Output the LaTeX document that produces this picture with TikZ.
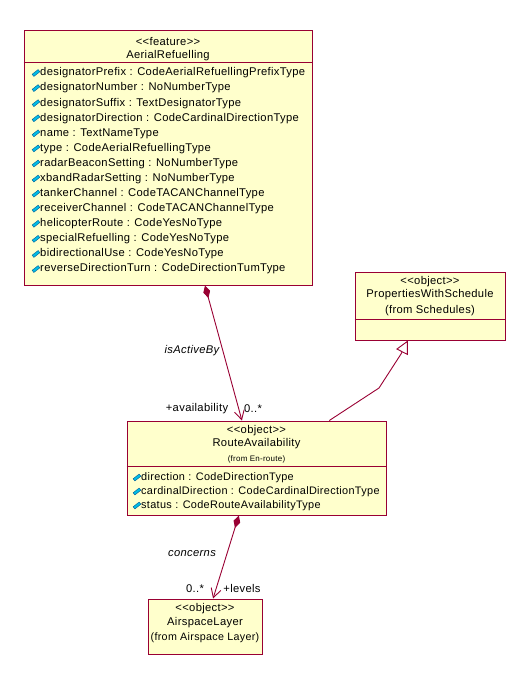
\documentclass[tikz,border=0pt]{standalone}
\usepackage{fontspec}
\setmainfont{Liberation Sans}[LetterSpace=3]
\usetikzlibrary{arrows.meta,calc}

\definecolor{umlline}{RGB}{153,0,51}
\definecolor{umlfill}{RGB}{255,255,204}
\definecolor{attrfill}{RGB}{0,190,230}
\definecolor{attrline}{RGB}{0,90,150}

\tikzset{
  classbox/.style={rectangle, draw=umlline, fill=umlfill, line width=1pt, inner sep=0pt},
  txt/.style={font=\fontsize{11.2}{13}\selectfont, inner sep=0pt},
  tighttxt/.style={font=\fontsize{10.7}{13}\selectfont, inner sep=0pt},
  smalltxt/.style={font=\fontsize{8}{10}\selectfont, inner sep=0pt},
  attr/.style={txt, anchor=west},
  tightattr/.style={attr, font=\fontsize{10.9}{13}\selectfont},
  assocname/.style={inner sep=0pt, font=\fontsize{11.2}{13}\selectfont\itshape},
  link/.style={draw=umlline, line width=0.9pt},
  aggregation/.style={link,
    {Diamond[length=13pt,width=7pt,fill=umlline]}-{Straight Barb[length=9pt,width=10pt]}},
  generalization/.style={link, -{Triangle[open,length=13pt,width=13pt,fill=white]}},
  separator/.style={draw=umlline, line width=1pt},
  attricon/.pic={
    \draw[attrline, fill=attrfill, line width=0.4pt, rotate=38]
      (-3.8,-1.4) rectangle (3.8,1.4);
  }
}

\begin{document}
\begin{tikzpicture}[x=1pt, y=-1pt]
  \useasboundingbox (0,0) rectangle (531,687);

  % ---- AerialRefuelling ----
  \node[classbox, minimum width=288pt, minimum height=254pt] (ar) at (168,158) {};
  \draw[separator] (ar.west |- 0,63) -- (ar.east |- 0,63);
  \node[txt] (arst) at (168,42) {<{}<feature>{}>};
  \node[txt] (arname) at (168,56) {AerialRefuelling};
  \foreach \t [count=\i from 0] in {
      designatorPrefix : CodeAerialRefuellingPrefixType,
      designatorNumber : NoNumberType,
      designatorSuffix : TextDesignatorType,
      designatorDirection : CodeCardinalDirectionType,
      name : TextNameType,
      type : CodeAerialRefuellingType,
      radarBeaconSetting : NoNumberType,
      xbandRadarSetting : NoNumberType,
      tankerChannel : CodeTACANChannelType,
      receiverChannel : CodeTACANChannelType,
      helicopterRoute : CodeYesNoType,
      specialRefuelling : CodeYesNoType,
      bidirectionalUse : CodeYesNoType,
      reverseDirectionTurn : CodeDirectionTumType} {
    \pic at (36,73+15.08*\i) {attricon};
    \node[attr] (arattr\i) at (40,73+15.08*\i) {\t};
  }

  % ---- PropertiesWithSchedule ----
  \node[classbox, minimum width=150pt, minimum height=68pt] (pws) at (430,306) {};
  \draw[separator] (pws.west |- 0,319) -- (pws.east |- 0,319);
  \node[txt] (pwsst) at (430,282) {<{}<object>{}>};
  \node[txt] (pwsname) at (430,295) {PropertiesWithSchedule};
  \node[txt] (pwsfrom) at (430,311) {(from Schedules)};

  % ---- RouteAvailability ----
  \node[classbox, minimum width=259pt, minimum height=94pt] (ra) at (256.5,468) {};
  \draw[separator] (ra.west |- 0,466) -- (ra.east |- 0,466);
  \node[txt] (rast) at (256.5,431) {<{}<object>{}>};
  \node[txt] (raname) at (256.5,444) {RouteAvailability};
  \node[smalltxt] (rafrom) at (256.5,459) {(from En-route)};
  \foreach \t/\y [count=\i] in {
      direction : CodeDirectionType/477.5,
      cardinalDirection : CodeCardinalDirectionType/491.5,
      status : CodeRouteAvailabilityType/505.5} {
    \pic at (137,\y) {attricon};
    \node[tightattr] (raattr\i) at (141,\y) {\t};
  }

  % ---- AirspaceLayer ----
  \node[classbox, minimum width=114pt, minimum height=55pt] (al) at (205,626.5) {};
  \node[txt] (alst) at (205,609) {<{}<object>{}>};
  \node[txt] (alname) at (205,623) {AirspaceLayer};
  \node[tighttxt] (alfrom) at (205,638) {(from Airspace Layer)};

  % ---- connectors ----
  \draw[aggregation] ($(ar.south west)!0.628!(ar.south east)$)
    -- ($(ra.north west)!0.444!(ra.north east)$);
  \node[assocname] (isactive) at (192,351) {isActiveBy};
  \node[txt] (availrole) at (197,409) {+availability};
  \node[txt] (availmult) at (253,409) {0..*};

  \coordinate (gbend1) at (379,388);
  \coordinate (gbend2) at (401,354);
  \draw[generalization] ($(ra.north west)!0.78!(ra.north east)$)
    -- (gbend1) -- (gbend2) -- ($(pws.south west)!0.353!(pws.south east)$);

  \draw[aggregation] ($(ra.south west)!0.432!(ra.south east)$)
    -- ($(al.north west)!0.57!(al.north east)$);
  \node[assocname] (concerns) at (192,554) {concerns};
  \node[txt] (levelmult) at (195,589) {0..*};
  \node[txt] (levelrole) at (242,588) {+levels};
\end{tikzpicture}
\end{document}
